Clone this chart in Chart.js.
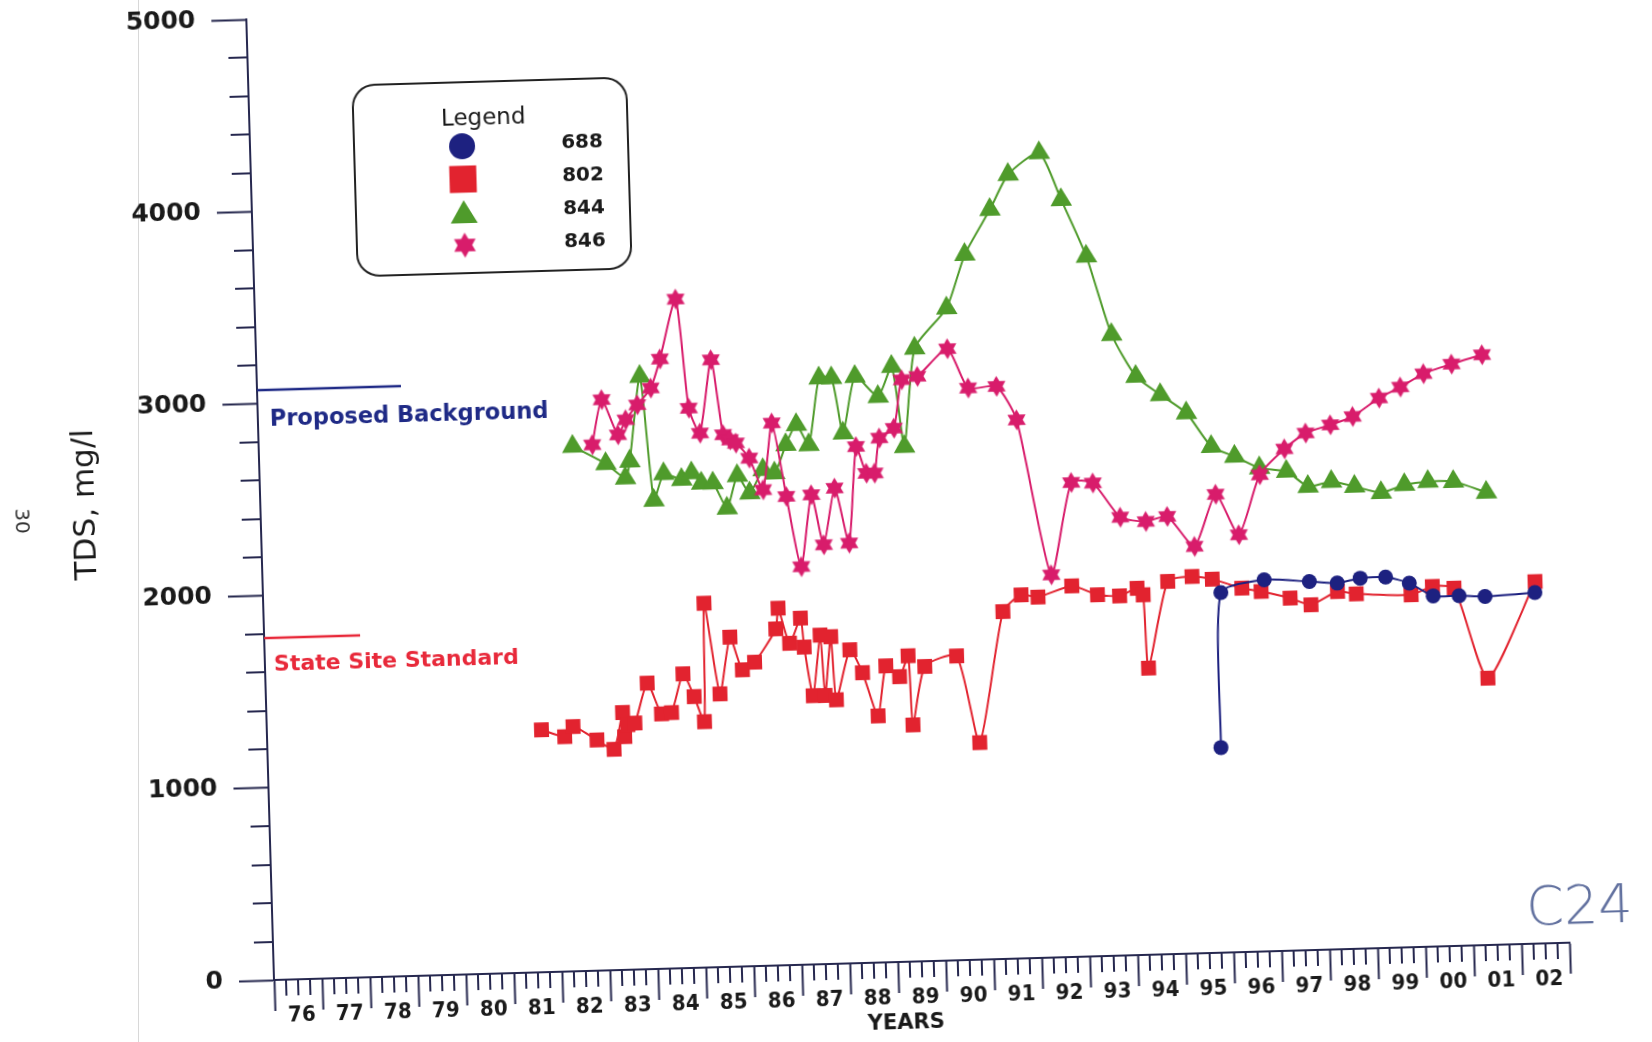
<!DOCTYPE html>
<html>
<head>
<meta charset="utf-8">
<title>TDS</title>
<script src="https://cdn.jsdelivr.net/npm/chart.js@4.4.1/dist/chart.umd.min.js"></script>
<style>
  html, body { margin: 0; padding: 0; background: #fff; overflow: hidden; width: 1652px; height: 1042px; }
  #hoja { position: absolute; left: 0; top: 0; width: 1652px; height: 1100px; transform-origin: 274px 980px; transform: rotate(-1.65deg); }
  #borde { position: absolute; left: 138px; top: 0; width: 1px; height: 1042px; background: #d8d8d8; }
</style>
</head>
<body>
<div id="borde"></div>
<div id="hoja"><canvas id="grafico" width="1652" height="1100"></canvas></div>
<script>
// datos por pozo (año decimal, TDS mg/l)
const anios688 = [1995.86, 1995.95, 1996.86, 1997.80, 1998.38, 1998.86, 1999.39, 1999.88, 2000.37, 2000.91, 2001.45, 2002.49];
const tds688 = [1067, 1873, 1933, 1917, 1905, 1927, 1929, 1894, 1824, 1821, 1813, 1826];

const anios802 = [1981.72, 1982.20, 1982.38, 1982.87, 1983.22, 1983.42, 1983.45, 1983.52, 1983.67, 1983.95,
    1984.23, 1984.44, 1984.70, 1984.92, 1985.12, 1985.18, 1985.46, 1985.70, 1985.94, 1986.20,
    1986.66, 1986.72, 1986.94, 1987.18, 1987.24, 1987.40, 1987.58, 1987.65, 1987.80, 1987.88,
    1988.19, 1988.44, 1988.74, 1988.93, 1989.21, 1989.40, 1989.46, 1989.74, 1990.41, 1990.84,
    1991.40, 1991.79, 1992.14, 1992.85, 1993.38, 1993.84, 1994.21, 1994.33, 1994.40, 1994.85,
    1995.36, 1995.78, 1996.39, 1996.79, 1997.39, 1997.82, 1998.38, 1998.77, 1999.91, 2000.36,
    2000.81, 2001.46, 2002.50];
const tds802 = [1261, 1222, 1273, 1200, 1149, 1339, 1213, 1274, 1282, 1488,
    1326, 1331, 1531, 1411, 1279, 1895, 1421, 1715, 1543, 1581,
    1751, 1858, 1674, 1803, 1652, 1398, 1712, 1397, 1702, 1373,
    1631, 1510, 1283, 1542, 1484, 1591, 1231, 1533, 1583, 1129,
    1807, 1891, 1877, 1930, 1880, 1871, 1908, 1873, 1491, 1939,
    1961, 1944, 1893, 1873, 1834, 1796, 1861, 1846, 1833, 1873,
    1861, 1388, 1883];

const anios844 = [1982.54, 1983.22, 1983.62, 1983.72, 1983.98, 1984.20, 1984.42, 1984.79, 1985.00, 1985.20,
    1985.44, 1985.72, 1985.95, 1986.20, 1986.49, 1986.73, 1986.98, 1987.21, 1987.46, 1987.71,
    1987.97, 1988.18, 1988.46, 1988.93, 1989.23, 1989.45, 1989.72, 1990.41, 1990.82, 1991.37,
    1991.77, 1992.43, 1992.86, 1993.35, 1993.83, 1994.31, 1994.81, 1995.34, 1995.84, 1996.32,
    1996.83, 1997.39, 1997.83, 1998.32, 1998.80, 1999.35, 1999.84, 2000.33, 2000.86, 2001.54];
const tds844 = [2730, 2635, 2557, 2644, 3084, 2437, 2574, 2541, 2574, 2520,
    2518, 2386, 2553, 2461, 2580, 2561, 2707, 2809, 2703, 3049,
    3047, 2759, 3052, 2944, 3098, 2680, 3190, 3394, 3669, 3899,
    4079, 4187, 3940, 3642, 3231, 3010, 2911, 2812, 2634, 2579,
    2515, 2493, 2412, 2434, 2405, 2369, 2406, 2420, 2416, 2354];

const anios846 = [1982.95, 1983.17, 1983.49, 1983.66, 1983.91, 1984.20, 1984.41, 1984.77, 1984.98, 1985.20,
    1985.47, 1985.68, 1985.82, 1985.94, 1986.21, 1986.48, 1986.70, 1986.96, 1987.23, 1987.48,
    1987.71, 1987.97, 1988.24, 1988.44, 1988.64, 1988.81, 1988.93, 1989.24, 1989.43, 1989.76,
    1990.40, 1990.81, 1991.40, 1991.80, 1992.43, 1992.90, 1993.35, 1993.90, 1994.43, 1994.88,
    1995.43, 1995.90, 1996.36, 1996.83, 1997.36, 1997.81, 1998.33, 1998.80, 1999.36, 1999.81,
    2000.30, 2000.89, 2001.53];
const tds846 = [2736, 2969, 2784, 2861, 2937, 3022, 3172, 3481, 2912, 2780,
    3160, 2769, 2741, 2723, 2643, 2476, 2822, 2438, 2071, 2443,
    2181, 2474, 2186, 2687, 2547, 2546, 2728, 2777, 3028, 3043,
    3182, 2975, 2979, 2802, 1991, 2468, 2462, 2280, 2254, 2277,
    2117, 2385, 2171, 2480, 2611, 2690, 2729, 2769, 2861, 2915,
    2981, 3027, 3071];

// niveles de referencia
const nivelFondo = 3070;
const aniosFondo = [1976, 1979];
const nivelEstatal = 1780;
const aniosEstatal = [1976, 1978];

// etiquetas del eje X (un rótulo por año)
const etiquetasAnio = ['76', '77', '78', '79', '80', '81', '82', '83', '84', '85', '86', '87', '88', '89',
    '90', '91', '92', '93', '94', '95', '96', '97', '98', '99', '00', '01', '02'];

// colores
const AZUL = '#1d2180';
const ROJO = '#e2232f';
const VERDE = '#4f9b2b';
const ROSA = '#d81c6b';
const EJE = '#26284f';
const TEXTO = '#1a1a1a';

// estrella de seis puntas como pointStyle
function estrella(r, color) {
    const c = document.createElement('canvas');
    const s = Math.ceil(r * 2 + 2);
    c.width = c.height = s;
    const g = c.getContext('2d');
    g.fillStyle = color;
    g.beginPath();
    for (let i = 0; i < 12; i++) {
        const ang = -Math.PI / 2 + i * Math.PI / 6;
        const rr = i % 2 === 0 ? r : r * 0.58;
        g.lineTo(s / 2 + rr * Math.cos(ang), s / 2 + rr * Math.sin(ang));
    }
    g.closePath();
    g.fill();
    return c;
}
const estrellaChica = estrella(10.5, ROSA);
const estrellaGrande = estrella(12.5, ROSA);

const pts = (xs, ys) => xs.map((x, i) => ({ x, y: ys[i] }));

// marcadores de la leyenda
function marcador(ctx, tipo, x, y, color) {
    ctx.fillStyle = color;
    ctx.beginPath();
    if (tipo === 'circle') {
        ctx.arc(x, y, 13, 0, Math.PI * 2);
        ctx.fill();
    } else if (tipo === 'rect') {
        ctx.fillRect(x - 13.5, y - 13.5, 27, 27);
    } else if (tipo === 'triangle') {
        ctx.moveTo(x, y - 12);
        ctx.lineTo(x + 13.5, y + 11);
        ctx.lineTo(x - 13.5, y + 11);
        ctx.closePath();
        ctx.fill();
    } else {
        ctx.drawImage(estrellaGrande, x - estrellaGrande.width / 2, y - estrellaGrande.height / 2);
    }
}

const decorado = {
    id: 'decorado',
    afterDraw(chart) {
        const { ctx, chartArea: a } = chart;
        const x = chart.scales.x, y = chart.scales.y;
        ctx.save();

        // marcas menores
        ctx.strokeStyle = EJE;
        ctx.lineWidth = 2;
        ctx.beginPath();
        for (let v = 200; v < 5000; v += 200) {
            if (v % 1000 === 0) continue;
            const py = Math.round(y.getPixelForValue(v));
            ctx.moveTo(a.left - 19, py);
            ctx.lineTo(a.left, py);
        }
        for (let an = 1976; an < 2003; an++) {
            [0.25, 0.5, 0.75].forEach(q => {
                const px = Math.round(x.getPixelForValue(an + q));
                ctx.moveTo(px, a.bottom);
                ctx.lineTo(px, a.bottom + 16);
            });
        }
        ctx.stroke();

        // años
        ctx.fillStyle = TEXTO;
        ctx.textAlign = 'center';
        ctx.textBaseline = 'middle';
        ctx.font = "bold 22px 'DejaVu Sans Condensed', 'DejaVu Sans'";
        etiquetasAnio.forEach((t, i) => {
            ctx.fillText(t, x.getPixelForValue(1976 + i + 0.56), a.bottom + 36);
        });
        ctx.font = "bold 21px 'DejaVu Sans'";
        ctx.fillText('YEARS', x.getPixelForValue(1989.14), a.bottom + 62);

        // título eje Y
        ctx.save();
        ctx.translate(100, (a.top + a.bottom) / 2);
        ctx.rotate(-Math.PI / 2);
        ctx.font = "31px 'DejaVu Sans'";
        ctx.fillText('TDS, mg/l', 0, 0);
        ctx.restore();

        // rótulos de los niveles de referencia
        ctx.textAlign = 'left';
        ctx.font = "bold 22.5px 'DejaVu Sans'";
        ctx.fillStyle = '#1f2a86';
        ctx.fillText('Proposed Background', x.getPixelForValue(1976.25), y.getPixelForValue(2915));
        ctx.font = "bold 22px 'DejaVu Sans'";
        ctx.fillStyle = '#e8293a';
        ctx.fillText('State Site Standard', x.getPixelForValue(1976.19), y.getPixelForValue(1635));

        // leyenda
        ctx.lineWidth = 2;
        ctx.strokeStyle = '#222';
        ctx.beginPath();
        ctx.roundRect(378, 88, 274, 191, 22);
        ctx.stroke();
        ctx.textAlign = 'center';
        ctx.fillStyle = TEXTO;
        ctx.font = "23px 'DejaVu Sans'";
        ctx.fillText('Legend', 508, 125);
        const items = [['688', 'circle', AZUL], ['802', 'rect', ROJO], ['844', 'triangle', VERDE], ['846', 'star', ROSA]];
        items.forEach(([nombre, tipo, color], i) => {
            const cy = 152 + i * 33;
            marcador(ctx, tipo, 486, cy, color);
            ctx.fillStyle = TEXTO;
            ctx.font = "bold 20px 'DejaVu Sans'";
            ctx.fillText(nombre, 606, cy);
        });

        // anotaciones sueltas de la hoja
        ctx.save();
        ctx.translate(34, 514);
        ctx.rotate(Math.PI / 2);
        ctx.font = "20px 'DejaVu Sans'";
        ctx.fillStyle = '#333';
        ctx.fillText('30', 0, 0);
        ctx.restore();
        ctx.font = "200 54px 'DejaVu Sans'";
        ctx.fillStyle = '#62719f';
        ctx.fillText('C24', 1581, 947);

        ctx.restore();
    }
};

const ctx = document.getElementById('grafico').getContext('2d');

new Chart(ctx, {
    type: 'line',
    data: {
        datasets: [
            { label: '688', data: pts(anios688, tds688), borderColor: AZUL, backgroundColor: AZUL, pointStyle: 'circle', pointRadius: 7.5, order: 3 },
            { label: '802', data: pts(anios802, tds802), borderColor: ROJO, backgroundColor: ROJO, pointStyle: 'rect', pointRadius: 10.5, order: 4 },
            { label: '844', data: pts(anios844, tds844), borderColor: VERDE, backgroundColor: VERDE, pointStyle: 'triangle', pointRadius: 12.5, order: 2 },
            { label: '846', data: pts(anios846, tds846), borderColor: ROSA, backgroundColor: ROSA, pointStyle: estrellaChica, order: 1 },
            { label: 'Proposed Background', data: pts(aniosFondo, [nivelFondo, nivelFondo]), borderColor: '#1f2a86', borderWidth: 2.5, pointRadius: 0, tension: 0, order: 5 },
            { label: 'State Site Standard', data: pts(aniosEstatal, [nivelEstatal, nivelEstatal]), borderColor: '#e8293a', borderWidth: 2.5, pointRadius: 0, tension: 0, order: 5 }
        ]
    },
    options: {
        responsive: false,
        animation: false,
        layout: { padding: { top: 19, right: 82, left: 0, bottom: 0 } },
        elements: {
            line: { borderWidth: 2, tension: 0.2, fill: false },
            point: { borderWidth: 0 }
        },
        plugins: { legend: { display: false }, tooltip: { enabled: false } },
        scales: {
            x: {
                type: 'linear',
                min: 1976,
                max: 2003,
                afterFit: s => { s.height = 120; },
                ticks: { display: false, stepSize: 1 },
                grid: { drawOnChartArea: false, tickLength: 31, tickColor: EJE, tickWidth: 2 },
                border: { color: EJE, width: 2 }
            },
            y: {
                min: 0,
                max: 5000,
                // ancho fijo del eje y sin relleno extra arriba/abajo
                afterFit: s => { s.width = 274; s.paddingTop = 0; s.paddingBottom = 0; },
                ticks: {
                    stepSize: 1000, padding: 16, color: TEXTO,
                    font: { family: "'DejaVu Sans'", size: 25, weight: 'bold' },
                    callback: v => String(v)
                },
                grid: { drawOnChartArea: false, tickLength: 35, tickColor: EJE, tickWidth: 2 },
                border: { color: EJE, width: 2 }
            }
        }
    },
    plugins: [decorado]
});
</script>
</body>
</html>
